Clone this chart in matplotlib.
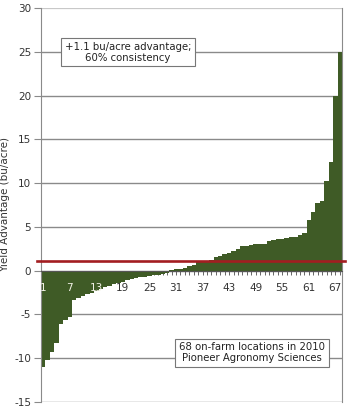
import numpy as np
import matplotlib
matplotlib.use('Agg')
from matplotlib import pyplot as plt

# yield advantage per location, sorted (bu/acre)
locations = np.arange(1, 69)
advantage = [
    -11.0, -10.25, -9.3, -8.3, -6.1, -5.6, -5.3,
    -3.4, -3.1, -2.9, -2.7, -2.5, -2.3, -2.1, -1.9, -1.7, -1.55, -1.4,
    -1.25, -1.1, -0.95, -0.85, -0.75, -0.7, -0.6, -0.55, -0.5, -0.4, -0.3,
    0.05, 0.15, 0.2, 0.35, 0.5, 0.7, 0.95, 1.05, 1.1, 1.25, 1.6, 1.7,
    1.95, 2.0, 2.3, 2.5, 2.8, 2.85, 2.9, 3.0, 3.0, 3.05, 3.35, 3.55,
    3.6, 3.65, 3.7, 3.8, 3.85, 4.1, 4.3, 5.8, 6.7, 7.7, 7.9,
    10.2, 12.4, 19.9, 25.0,
]
mean_advantage = 1.1
xtick_labels = [1, 7, 13, 19, 25, 31, 37, 43, 49, 55, 61, 67]
yticks = np.arange(-15, 31, 5)

bar_green = '#3f5b26'
red = '#a31d21'
grid_gray = '#8a8a8a'

plt.rcParams['font.family'] = 'DejaVu Sans'
plt.rcParams['axes.unicode_minus'] = False
fig = plt.figure(figsize=(3.5, 4.09), dpi=100)
ax = fig.add_axes([41/350, 7/409, 301/350, 394/409])

ax.bar(locations, advantage, width=1.0, color=bar_green, linewidth=0, zorder=2)

# horizontal grid
for y in yticks:
    ax.axhline(y, color=grid_gray if y < 30 else '#c8c8c8', lw=1.0 if y < 30 else 1.6, zorder=1)

# average line
ax.axhline(mean_advantage, xmin=-0.013, xmax=1.01, color=red, lw=1.9,
           zorder=4, clip_on=False)

ax.set_xlim(0.5, 68.5)
ax.set_ylim(-15, 30)
ax.set_yticks(yticks)
ax.tick_params(axis='y', direction='out', length=5, width=0.8, color=grid_gray,
               labelsize=7.5, labelcolor='#333333', pad=2)

ax.spines['bottom'].set_position(('data', 0))
ax.spines['bottom'].set_color('#555555')
ax.spines['bottom'].set_zorder(3)
ax.spines['top'].set_visible(False)
ax.spines['right'].set_color(grid_gray)
ax.spines['left'].set_color(grid_gray)
ax.set_xticks(locations)
ax.set_xticklabels([])
ax.tick_params(axis='x', direction='out', length=3, width=0.7, color='#666666')
ax.xaxis.set_zorder(1.5)

# category labels drawn just under the zero line, light where they sit on deep bars
for v in xtick_labels:
    col = '#f2f2e6' if advantage[v - 1] < -2 else '#333333'
    ax.annotate(str(v), xy=(v, 0), xytext=(0, -12.5), textcoords='offset points',
                ha='center', va='center', fontsize=7.5, color=col, zorder=3)

ax.set_ylabel('Yield Advantage (bu/acre)', fontsize=7.5, color='#333333', labelpad=3)

box = dict(boxstyle='square,pad=0.35', facecolor='white', edgecolor='#777777', lw=0.8)
ax.text(0.289, 0.888, '+1.1 bu/acre advantage;\n60% consistency', transform=ax.transAxes,
        ha='center', va='center', fontsize=7.3, color='#222222', bbox=box, zorder=5,
        linespacing=1.15)
ax.text(0.701, 0.125, '68 on-farm locations in 2010\nPioneer Agronomy Sciences',
        transform=ax.transAxes, ha='center', va='center', fontsize=7.3, color='#222222',
        bbox=box, zorder=5, linespacing=1.15)

fig.savefig('out.png', dpi=100)
